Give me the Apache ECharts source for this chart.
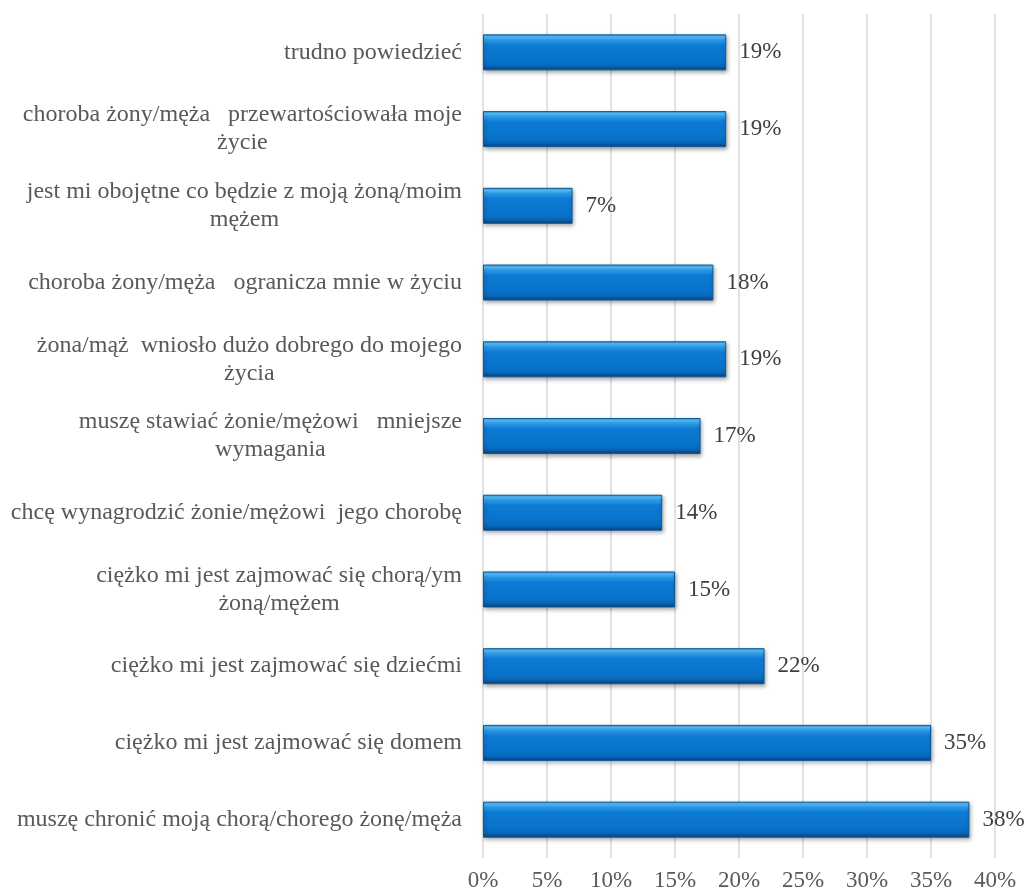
<!DOCTYPE html>
<html>
<head>
<meta charset="utf-8">
<script src="https://cdn.jsdelivr.net/npm/echarts@6/dist/echarts.min.js"></script>
<style>
  html, body { margin: 0; padding: 0; background: #ffffff; }
  #chart { width: 1032px; height: 894px; }
</style>
</head>
<body>
<div id="chart"></div>
<script>
// Answer categories, top to bottom (explicit line breaks where the label wraps)
const categories = [
  'trudno powiedzieć',
  'choroba żony/męża   przewartościowała moje\nżycie',
  'jest mi obojętne co będzie z moją żoną/moim\nmężem',
  'choroba żony/męża   ogranicza mnie w życiu',
  'żona/mąż  wniosło dużo dobrego do mojego\nżycia',
  'muszę stawiać żonie/mężowi   mniejsze\nwymagania',
  'chcę wynagrodzić żonie/mężowi  jego chorobę',
  'ciężko mi jest zajmować się chorą/ym\nżoną/mężem',
  'ciężko mi jest zajmować się dziećmi',
  'ciężko mi jest zajmować się domem',
  'muszę chronić moją chorą/chorego żonę/męża'
];

// Share of respondents, percent
const values = [19, 19, 7, 18, 19, 17, 14, 15, 22, 35, 38];

// Horizontal axis ticks, percent
const xTicks = [0, 5, 10, 15, 20, 25, 30, 35, 40];

const serif = '"Liberation Serif", "Times New Roman", "DejaVu Serif", serif';

const barFill = new echarts.graphic.LinearGradient(0, 0, 0, 1, [
  { offset: 0.00, color: '#2c90e2' },
  { offset: 0.07, color: '#5cc0fa' },
  { offset: 0.16, color: '#2b9be9' },
  { offset: 0.30, color: '#0d7bd4' },
  { offset: 0.76, color: '#0872c9' },
  { offset: 0.88, color: '#0866b8' },
  { offset: 0.95, color: '#0b4f8f' },
  { offset: 1.00, color: '#163a60' }
]);

const chart = echarts.init(document.getElementById('chart'), null, { renderer: 'canvas' });

chart.setOption({
  animation: false,
  backgroundColor: '#ffffff',
  grid: { left: 483, right: 37, top: 14, bottom: 36, containLabel: false },
  xAxis: {
    type: 'value',
    min: xTicks[0],
    max: xTicks[xTicks.length - 1],
    interval: xTicks[1] - xTicks[0],
    axisLine: { show: false },
    axisTick: { show: false },
    splitLine: { show: true, lineStyle: { color: '#d9d9d9', width: 1.5 } },
    axisLabel: {
      margin: 11,
      formatter: v => v + '%',
      fontFamily: serif,
      fontSize: 23,
      color: '#595959'
    }
  },
  yAxis: {
    type: 'category',
    inverse: true,
    data: categories,
    axisLine: { show: false },
    axisTick: { show: false },
    splitLine: { show: false },
    axisLabel: {
      margin: 21,
      align: 'right',
      color: '#595959',
      fontFamily: serif,
      fontSize: 24,
      lineHeight: 28,
      formatter: name => name.split('\n').map(line => '{c|' + line + '}').join('\n'),
      rich: {
        c: {
          align: 'center',
          fontFamily: serif,
          fontSize: 24,
          lineHeight: 28,
          color: '#595959'
        }
      }
    }
  },
  series: [{
    type: 'bar',
    data: values,
    barWidth: 36,
    itemStyle: {
      color: barFill,
      borderColor: '#0b5a9e',
      borderWidth: 1,
      shadowColor: 'rgba(0,0,0,0.35)',
      shadowBlur: 4,
      shadowOffsetX: 1,
      shadowOffsetY: 2
    },
    label: {
      show: true,
      position: 'right',
      distance: 13,
      formatter: p => p.value + '%',
      fontFamily: serif,
      fontSize: 23,
      color: '#404040'
    }
  }]
});
</script>
</body>
</html>
